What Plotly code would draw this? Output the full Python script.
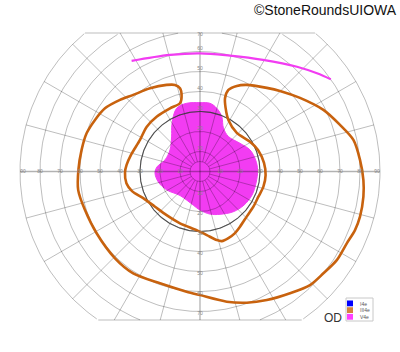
import numpy as np
import plotly.graph_objects as go

# ---------------- data (degrees of visual field, x = horizontal, y = vertical) -------------
iii4e_x = [-12.5, -16.7, -25.0, -33.4, -40.0, -47.5, -52.5, -56.7, -59.2, -60.8, -60.9, -57.5,
           -51.7, -42.5, -33.4, -20.0, -6.7, 0.0, 13.4, 23.4, 33.4, 45.0, 55.0, 61.7, 68.4,
           73.4, 77.5, 80.0, 81.7, 81.7, 80.0, 76.7, 70.0, 61.7, 50.0, 40.0, 33.4, 23.4, 18.4,
           14.2, 12.5, 12.8, 14.2, 18.4, 25.0, 29.0, 32.0, 32.8, 31.7, 29.2, 26.7, 23.5, 20.0,
           17.5, 14.2, 10.9, 8.4, 3.4, -1.7, -10.0, -16.7, -22.5, -28.4, -34.0, -36.8, -37.5,
           -36.7, -34.5, -30.0, -26.7, -21.7, -15.0, -10.0, -9.2, -10.0, -12.5]
iii4e_y = [43.3, 43.3, 41.6, 38.3, 35.8, 31.6, 25.8, 19.1, 10.8, 0.8, -9.3, -19.3,
           -30.9, -43.4, -50.9, -55.9, -60.1, -61.8, -65.1, -65.6, -64.3, -60.9, -56.8, -50.9, -44.3,
           -35.9, -29.3, -22.6, -12.6, -4.3, 5.8, 15.8, 23.3, 30.8, 36.8, 40.3, 41.8, 43.3, 42.8,
           40.8, 36.6, 31.8, 25.8, 19.3, 14.9, 10.8, 4.3, -1.8, -7.6, -12.6, -17.6, -22.3, -27.6,
           -30.8, -33.3, -34.8, -34.3, -31.8, -29.3, -25.9, -21.8, -17.6, -13.3, -9.8, -5.9, -0.3,
           3.3, 8.3, 15.8, 22.3, 27.4, 31.6, 34.1, 37.4, 41.6, 43.3]

v4e_fill_x = [0.0, 5.0, 8.4, 10.9, 11.7, 14.2, 20.0, 25.0, 27.8, 28.8, 28.0, 26.0, 22.0, 16.7,
              10.0, 5.0, 0.0, -3.4, -10.0, -16.5, -20.8, -22.5, -21.5, -17.5, -15.0, -14.2,
              -14.0, -11.7, -6.7, 0.0]
v4e_fill_y = [34.4, 34.1, 31.6, 27.4, 21.8, 17.5, 14.1, 10.8, 5.8, 0.8, -5.8, -11.8, -16.8, -20.1,
              -21.4, -21.3, -19.3, -16.8, -12.0, -9.3, -5.3, -0.8, 2.3, 5.8, 10.8, 17.3,
              23.8, 31.6, 34.1, 34.4]

v4e_arc_x = [-34.2, -15.0, 0.0, 15.0, 31.5, 48.5, 58.5, 65.4]
v4e_arc_y = [55.3, 58.3, 59.1, 57.9, 55.8, 52.4, 49.1, 46.1]

ring_degrees = [10, 20, 30, 40, 50, 60, 70, 80, 90]
h_tick_values = [-90, -80, -70, -60, -50, -40, -30, -20, -10, 10, 20, 30, 40, 50, 60, 70, 80, 90]
v_tick_values = [70, 60, 50, 40, 30, 20, 10, -10, -20, -30, -40, -50, -60, -70]
legend_labels = ["I4e", "III4e", "V4e"]
legend_colors = ["#0000ff", "#d4843c", "#ff40ff"]

# ---------------- geometry of the chart -------------
TOP, BOTTOM, RMAX = 69.25, -74.25, 90
ORANGE = "#c8620e"
MAGENTA = "#f23cf2"
GRID = "rgba(0,0,0,0.26)"

fig = go.Figure()

# V4e central filled isopter
fig.add_trace(go.Scatter(x=v4e_fill_x, y=v4e_fill_y, mode="lines", fill="toself",
                         fillcolor=MAGENTA, line=dict(color=MAGENTA, width=1, shape="spline"),
                         hoverinfo="skip", showlegend=False))

# grid circles (clipped to chords)
gx, gy = [], []
th = np.radians(np.arange(0, 361, 1.0))
for r in [5] + ring_degrees:
    xs = r * np.cos(th)
    ys = r * np.sin(th)
    for xv, yv in zip(xs, ys):
        if BOTTOM <= yv <= TOP:
            gx.append(xv); gy.append(yv)
        else:
            gx.append(None); gy.append(None)
    gx.append(None); gy.append(None)
# spokes every 15 degrees
for a in range(0, 360, 15):
    if a % 90 == 0:
        continue
    t = np.radians(a)
    s = np.sin(t)
    rend = RMAX
    if s > 0:
        rend = min(RMAX, TOP / s)
    elif s < 0:
        rend = min(RMAX, BOTTOM / s)
    gx += [5 * np.cos(t), rend * np.cos(t), None]
    gy += [5 * np.sin(t), rend * np.sin(t), None]
# chords
for yc in (TOP, BOTTOM):
    hw = np.sqrt(RMAX ** 2 - yc ** 2)
    gx += [-hw, hw, None]
    gy += [yc, yc, None]
fig.add_trace(go.Scatter(x=gx, y=gy, mode="lines", line=dict(color=GRID, width=1),
                         hoverinfo="skip", showlegend=False))
# main axes
fig.add_trace(go.Scatter(x=[-RMAX, RMAX, None, 0, 0], y=[0, 0, None, BOTTOM, TOP], mode="lines",
                         line=dict(color="rgba(0,0,0,0.3)", width=1.3),
                         hoverinfo="skip", showlegend=False))
# 30 degree dark circle
c30 = 30
fig.add_trace(go.Scatter(x=c30 * np.cos(th), y=c30 * np.sin(th), mode="lines",
                         line=dict(color="rgba(60,60,60,0.85)", width=1.1),
                         hoverinfo="skip", showlegend=False))

# III4e isopter
fig.add_trace(go.Scatter(x=iii4e_x, y=iii4e_y, mode="lines",
                         line=dict(color=ORANGE, width=2.6, shape="spline", smoothing=0.8),
                         hoverinfo="skip", showlegend=False))
# V4e partial arc
fig.add_trace(go.Scatter(x=v4e_arc_x, y=v4e_arc_y, mode="lines",
                         line=dict(color=MAGENTA, width=2.2, shape="spline"),
                         hoverinfo="skip", showlegend=False))

# tick labels
hx = [v if abs(v) < 90 else np.sign(v) * 88.5 for v in h_tick_values]
fig.add_trace(go.Scatter(x=hx, y=[0] * len(hx), mode="text",
                         text=[str(abs(v)) for v in h_tick_values],
                         textfont=dict(size=5, color="#8a8a8a", family="Liberation Sans"),
                         hoverinfo="skip", showlegend=False))
vy = [v + (1.2 if v > 0 else -1.2) if abs(v) < 70 else (68.5 if v > 0 else -71.2) for v in v_tick_values]
fig.add_trace(go.Scatter(x=[0] * len(vy), y=vy, mode="text",
                         text=[str(abs(v)) for v in v_tick_values],
                         textfont=dict(size=5, color="#8a8a8a", family="Liberation Sans"),
                         hoverinfo="skip", showlegend=False))

W, H = 400, 352
def px(xp):
    return xp / W
def py(yp):
    return 1 - yp / H

shapes = [dict(type="rect", xref="paper", yref="paper", x0=px(346), x1=px(373), y0=py(298), y1=py(321),
               line=dict(color="#c8c8c8", width=1), fillcolor="white")]
annotations = [
    dict(text="©StoneRoundsUIOWA", xref="paper", yref="paper", x=px(399), y=py(10), xanchor="right",
         yanchor="middle", showarrow=False, font=dict(size=14, color="#111", family="Liberation Sans")),
    dict(text="OD", xref="paper", yref="paper", x=px(322), y=py(318), xanchor="left",
         yanchor="middle", showarrow=False, font=dict(size=12, color="#333", family="Liberation Sans")),
]
for i, (lab, col) in enumerate(zip(legend_labels, legend_colors)):
    y0 = 300.5 + i * 6.7
    shapes.append(dict(type="rect", xref="paper", yref="paper", x0=px(347), x1=px(353),
                       y0=py(y0), y1=py(y0 + 5.8), line=dict(width=0), fillcolor=col))
    annotations.append(dict(text=lab, xref="paper", yref="paper", x=px(357.5), y=py(y0 + 3),
                            xanchor="left", yanchor="middle", showarrow=False,
                            font=dict(size=5, color="#555", family="Liberation Sans")))

fig.update_layout(
    width=W, height=H, margin=dict(l=0, r=0, t=0, b=0),
    paper_bgcolor="white", plot_bgcolor="white",
    xaxis=dict(range=[-100, 100], visible=False, fixedrange=True),
    yaxis=dict(range=[-90.25, 85.75], visible=False, fixedrange=True),
    shapes=shapes, annotations=annotations, showlegend=False,
)
fig.write_html("out.html")
